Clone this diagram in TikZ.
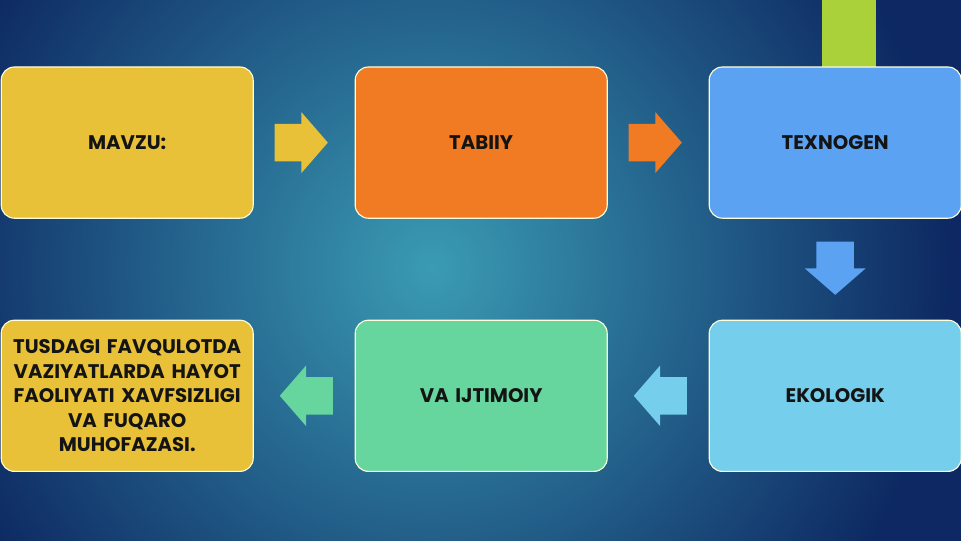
\documentclass[tikz,border=0pt]{standalone}
\usepackage{fontspec}
\setmainfont{Poppins}
\usetikzlibrary{positioning,calc,shapes.arrows}
\definecolor{navy}{RGB}{13,40,98}
\definecolor{teal}{RGB}{58,155,180}
\definecolor{bar}{RGB}{170,209,58}
\definecolor{yel}{RGB}{232,193,56}
\definecolor{ora}{RGB}{240,123,35}
\definecolor{blu}{RGB}{92,162,242}
\definecolor{lblu}{RGB}{117,206,236}
\definecolor{grn}{RGB}{102,213,158}
\definecolor{ink}{RGB}{20,20,20}
\begin{document}
\begin{tikzpicture}[font=\fontsize{14}{17.5}\selectfont\bfseries,
    box/.style={draw=white!85!yellow,line width=0.8pt,rounded corners=0.33cm,outer sep=0pt,
      inner xsep=0.05cm,minimum width=6.3cm,minimum height=3.78cm,text width=6.2cm,
      align=center,text=ink},
    blockarrow/.style={single arrow,draw=none,inner xsep=0pt,inner ysep=0.4625cm,anchor=tip,
      minimum height=1.33cm,single arrow head extend=0.29cm,single arrow tip angle=98}]
  % background
  \useasboundingbox (0,0) rectangle (24.025,13.5);
  \begin{scope}
    \clip (0,0) rectangle (24.025,13.5);
    \fill[navy] (-1,-1) rectangle (25,14.5);
    \shade[inner color=teal,outer color=navy] (10.8,6.8) circle (13);
  \end{scope}
  \fill[bar] (20.55,11.825) rectangle (21.9,13.5);
  % boxes
  \node[box,fill=yel,anchor=north west] (mavzu) at (0.03,11.825) {MAVZU:};
  \node[box,fill=ora,right=2.55cm of mavzu] (tabiiy) {TABIIY};
  \node[box,fill=blu,right=2.55cm of tabiiy] (texnogen) {TEXNOGEN};
  \node[box,fill=lblu,below=2.55cm of texnogen] (ekologik) {EKOLOGIK};
  \node[box,fill=grn,left=2.55cm of ekologik] (ijtimoiy) {VA IJTIMOIY};
  \node[box,fill=yel,left=2.55cm of ijtimoiy] (mavzu2) {TUSDAGI FAVQULOTDA\\ VAZIYATLARDA HAYOT\\ FAOLIYATI XAVFSIZLIGI\\ VA FUQARO\\ MUHOFAZASI.};
  % arrows (tip placed a little past the middle of each gap)
  \node[blockarrow,fill=yel] (a1) at ($(mavzu.east)!0.5!(tabiiy.west)+(0.6,0)$) {};
  \node[blockarrow,fill=ora] (a2) at ($(tabiiy.east)!0.5!(texnogen.west)+(0.6,0)$) {};
  \node[blockarrow,fill=blu,rotate=-90] (a3) at ($(texnogen.south)!0.5!(ekologik.north)+(0,-0.65)$) {};
  \node[blockarrow,fill=lblu,rotate=180] (a4) at ($(ekologik.west)!0.5!(ijtimoiy.east)+(-0.62,0)$) {};
  \node[blockarrow,fill=grn,rotate=180] (a5) at ($(ijtimoiy.west)!0.5!(mavzu2.east)+(-0.62,0)$) {};
\end{tikzpicture}
\end{document}
